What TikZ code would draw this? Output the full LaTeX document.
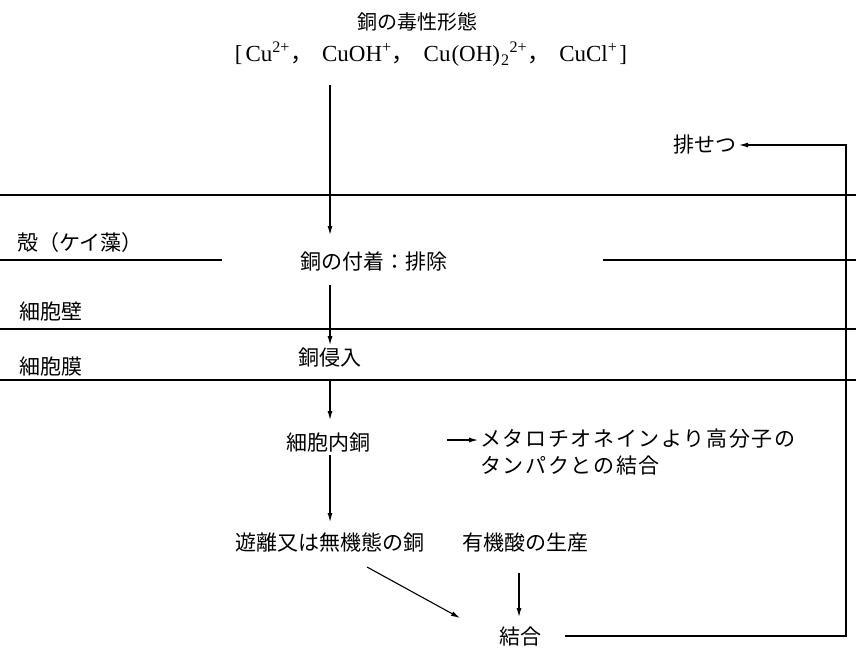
\documentclass[tikz,border=0pt]{standalone}
\usepackage{fontspec}
\setmainfont{Liberation Serif}
\newfontfamily\jp{Noto Sans CJK JP}
\newfontfamily\jpw[LetterSpace=8]{Noto Sans CJK JP}
\usetikzlibrary{arrows.meta}
\newcommand\fcomma{{\jp ，}\hspace{9pt}}
\begin{document}
\begin{tikzpicture}[x=1pt,y=-1pt,
  lbl/.style={font=\jp\fontsize{21}{27}\selectfont, inner sep=0pt},
  ln/.style={line width=1.1pt},
  arr/.style={line width=1.1pt,-{Latex[length=9pt,width=5pt]}}]
\useasboundingbox (0,0) rectangle (856,650);
% layer boundaries
\draw[ln] (0,195) -- (856,195);
\draw[ln] (0,260) -- (222,260);
\draw[ln] (603,260) -- (856,260);
\draw[ln] (0,329) -- (856,329);
\draw[ln] (0,380) -- (856,380);
% texts
\node[lbl,font=\jp\fontsize{20}{24}\selectfont] (title) at (417,22) {銅の毒性形態};
\node[inner sep=0pt,font=\fontsize{23}{27}\selectfont] (formula) at (431,54)
  {[\hspace{3pt}Cu\textsuperscript{2+}\fcomma CuOH\textsuperscript{+}\fcomma Cu\hspace{1pt}(OH)\hspace{1pt}\textsubscript{2}\textsuperscript{2+}\fcomma CuCl\textsuperscript{+}\hspace{2pt}]};
\node[lbl,anchor=west] (shell) at (17,243) {殻（ケイ藻）};
\node[lbl,anchor=west] (wall) at (19,312) {細胞壁};
\node[lbl,anchor=west] (memb) at (19,367) {細胞膜};
\node[lbl] (attach) at (374,262) {銅の付着：排除};
\node[lbl] (enter) at (330,358) {銅侵入};
\node[lbl] (intra) at (328,443) {細胞内銅};
\node[lbl] (free) at (330,543) {遊離又は無機態の銅};
\node[lbl] (organic) at (525,543) {有機酸の生産};
\node[lbl] (bind) at (520,637) {結合};
\node[lbl,anchor=east] (excr) at (737,145) {排せつ};
\node[lbl,font=\jpw\fontsize{21}{27}\selectfont,anchor=north west,align=left] (prot) at (480,429) {メタロチオネインより高分子の\\タンパクとの結合};
% connector ends
\coordinate (a1s) at (330,85);   \coordinate (a1e) at (330,235);
\coordinate (a2s) at (330,285);  \coordinate (a2e) at (330,345);
\coordinate (a3s) at (330,380);  \coordinate (a3e) at (330,420);
\coordinate (a4s) at (330,455);  \coordinate (a4e) at (330,522);
\coordinate (a5s) at (367,567);  \coordinate (a5e) at (460,618);
\coordinate (a6s) at (519,573);  \coordinate (a6e) at (519,617);
\coordinate (a7s) at (447,440);  \coordinate (a7e) at (478,440);
\coordinate (rs) at (565,636);   \coordinate (rc1) at (846,636);
\coordinate (rc2) at (846,145);  \coordinate (re) at (739,145);
% connectors
\draw[arr] (a1s) -- (a1e);
\draw[arr] (a2s) -- (a2e);
\draw[arr] (a3s) -- (a3e);
\draw[arr] (a4s) -- (a4e);
\draw[arr] (a5s) -- (a5e);
\draw[arr] (a6s) -- (a6e);
\draw[arr] (a7s) -- (a7e);
\draw[arr] (rs) -- (rc1) -- (rc2) -- (re);
\end{tikzpicture}
\end{document}
